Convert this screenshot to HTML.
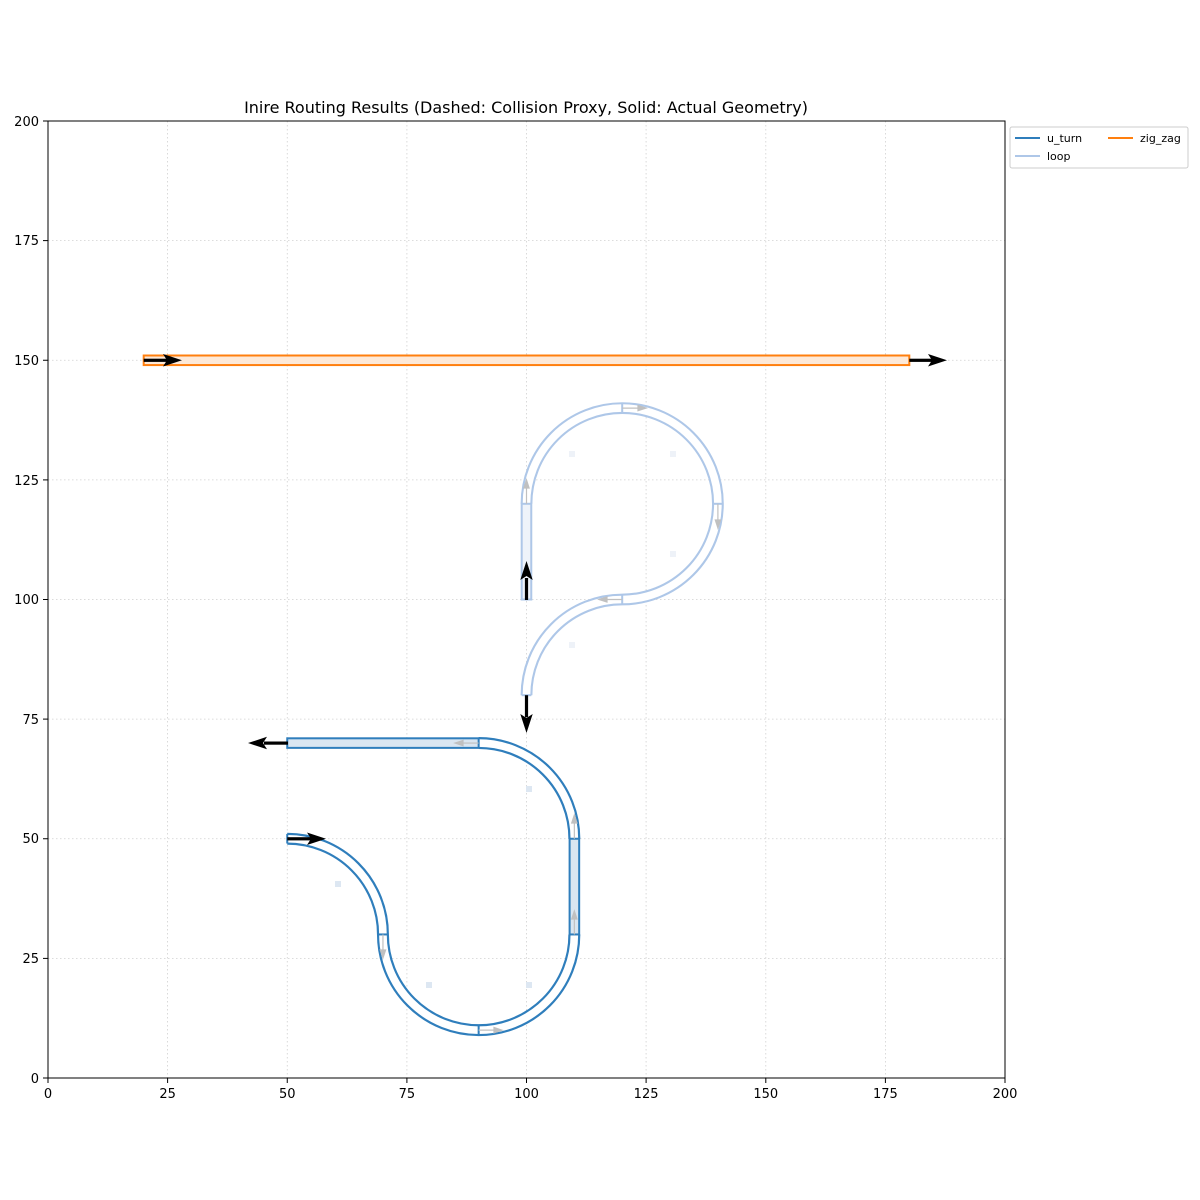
<!DOCTYPE html>
<html><head><style>body{margin:0;background:#fff}svg{display:block}</style></head><body>
<svg width="1200" height="1200" xmlns="http://www.w3.org/2000/svg" font-family="DejaVu Sans, Liberation Sans, sans-serif">
<rect width="1200" height="1200" fill="#fff"/>
<text x="526" y="113" font-size="16" text-anchor="middle">Inire Routing Results (Dashed: Collision Proxy, Solid: Actual Geometry)</text>
<g stroke="#d0d0d0" stroke-width="0.8" stroke-dasharray="1.5,2.5">
<line x1="167.6" y1="121" x2="167.6" y2="1078"/><line x1="287.25" y1="121" x2="287.25" y2="1078"/><line x1="406.9" y1="121" x2="406.9" y2="1078"/><line x1="526.5" y1="121" x2="526.5" y2="1078"/><line x1="646.1" y1="121" x2="646.1" y2="1078"/><line x1="765.8" y1="121" x2="765.8" y2="1078"/><line x1="885.4" y1="121" x2="885.4" y2="1078"/>
<line x1="48" y1="958.4" x2="1005" y2="958.4"/><line x1="48" y1="838.75" x2="1005" y2="838.75"/><line x1="48" y1="719.1" x2="1005" y2="719.1"/><line x1="48" y1="599.5" x2="1005" y2="599.5"/><line x1="48" y1="479.9" x2="1005" y2="479.9"/><line x1="48" y1="360.25" x2="1005" y2="360.25"/><line x1="48" y1="240.6" x2="1005" y2="240.6"/>
</g>
<!-- zig_zag -->
<rect x="143.7" y="355.5" width="765.6" height="9.57" fill="#fde9d8" stroke="#ff7f0e" stroke-width="2"/>
<!-- loop -->
<g fill="none">
<path d="M526.5,695.2 A95.7,95.7 0 0 1 622.2,599.5 A95.7,95.7 0 0 0 717.9,503.8 A95.7,95.7 0 0 0 622.2,408.1 A95.7,95.7 0 0 0 526.5,503.8" stroke="#aec7e8" stroke-width="11.8"/>
<path d="M526.5,695.2 A95.7,95.7 0 0 1 622.2,599.5 A95.7,95.7 0 0 0 717.9,503.8 A95.7,95.7 0 0 0 622.2,408.1 A95.7,95.7 0 0 0 526.5,503.8" stroke="#fff" stroke-width="7.6"/>
</g>
<rect x="521.7" y="503.8" width="9.57" height="95.7" fill="#eef3fa" stroke="#aec7e8" stroke-width="2"/>
<g stroke="#aec7e8" stroke-width="2"><line x1="521.7" y1="695.2" x2="531.3" y2="695.2"/><line x1="622.2" y1="594.7" x2="622.2" y2="604.3"/><line x1="713.1" y1="503.8" x2="722.7" y2="503.8"/><line x1="622.2" y1="403.3" x2="622.2" y2="412.9"/></g>
<!-- u_turn -->
<g fill="none">
<path d="M287.25,838.75 A95.7,95.7 0 0 1 382.95,934.45 A95.7,95.7 0 0 0 478.65,1030.15 A95.7,95.7 0 0 0 574.35,934.45 M574.35,838.75 A95.7,95.7 0 0 0 478.65,743.05" stroke="#2f7ebc" stroke-width="12"/>
<path d="M287.25,838.75 A95.7,95.7 0 0 1 382.95,934.45 A95.7,95.7 0 0 0 478.65,1030.15 A95.7,95.7 0 0 0 574.35,934.45 M574.35,838.75 A95.7,95.7 0 0 0 478.65,743.05" stroke="#fff" stroke-width="7.6"/>
</g>
<rect x="569.6" y="838.75" width="9.57" height="95.7" fill="#dae6f1" stroke="#2f7ebc" stroke-width="2"/>
<rect x="287.25" y="738.3" width="191.4" height="9.57" fill="#dae6f1" stroke="#2f7ebc" stroke-width="2"/>
<g stroke="#2f7ebc" stroke-width="2"><line x1="287.25" y1="834" x2="287.25" y2="843.5"/><line x1="378.2" y1="934.45" x2="387.7" y2="934.45"/><line x1="478.65" y1="1025.4" x2="478.65" y2="1035"/></g>
<!-- small gray direction arrows -->
<g stroke="#c0c0c0" stroke-width="1.2" fill="#c0c0c0">
<line x1="622.2" y1="408.1" x2="640" y2="408.1"/><polygon points="646,408.1 638,405.5 638,410.7"/>
<line x1="717.9" y1="503.8" x2="717.9" y2="522"/><polygon points="717.9,528 715.3,520 720.5,520"/>
<line x1="622.2" y1="599.5" x2="605" y2="599.5"/><polygon points="599,599.5 607,596.9 607,602.1"/>
<line x1="526.5" y1="503.8" x2="526.5" y2="486"/><polygon points="526.5,480 523.9,488 529.1,488"/>
<line x1="478.65" y1="743.05" x2="461" y2="743.05"/><polygon points="455,743.05 463,740.4 463,745.7"/>
<line x1="574.35" y1="838.75" x2="574.35" y2="821"/><polygon points="574.35,815 571.7,823 577,823"/>
<line x1="574.35" y1="934.45" x2="574.35" y2="917"/><polygon points="574.35,911 571.7,919 577,919"/>
<line x1="382.95" y1="934.45" x2="382.95" y2="952"/><polygon points="382.95,958 380.3,950 385.6,950"/>
<line x1="478.65" y1="1030.15" x2="496" y2="1030.15"/><polygon points="502,1030.15 494,1027.5 494,1032.8"/>
</g>
<!-- small markers -->
<g fill="#dde7f2"><rect x="335" y="881" width="6" height="6"/><rect x="426" y="982" width="6" height="6"/><rect x="526" y="982" width="6" height="6"/><rect x="526" y="786" width="6" height="6"/></g>
<g fill="#eef2f8"><rect x="569" y="451" width="6" height="6"/><rect x="670" y="451" width="6" height="6"/><rect x="670" y="551" width="6" height="6"/><rect x="569" y="642" width="6" height="6"/></g>
<!-- black arrows -->
<g fill="#000">
<rect x="143.7" y="358.7" width="24" height="3.2"/><polygon points="182,360.25 163,354 167,360.25 163,366.5"/>
<rect x="909.3" y="358.7" width="24" height="3.2"/><polygon points="947,360.25 928,354 932,360.25 928,366.5"/>
<rect x="287.25" y="837.2" width="24" height="3.2"/><polygon points="326,838.75 307,832.5 311,838.75 307,845"/>
<rect x="264" y="741.5" width="24" height="3.2"/><polygon points="248,743.05 267,736.8 263,743.05 267,749.3"/>
<rect x="524.9" y="695.2" width="3.2" height="22"/><polygon points="526.5,733 520.3,714 526.5,718 532.7,714"/>
<rect x="524.9" y="578" width="3.2" height="22"/><polygon points="526.5,561 520.3,580 526.5,576 532.7,580"/>
</g>
<!-- axes -->
<rect x="48" y="121" width="957" height="957" fill="none" stroke="#000" stroke-width="1"/>
<g stroke="#000" stroke-width="1">
<line x1="48" y1="1078" x2="48" y2="1083"/><line x1="167.6" y1="1078" x2="167.6" y2="1083"/><line x1="287.25" y1="1078" x2="287.25" y2="1083"/><line x1="406.9" y1="1078" x2="406.9" y2="1083"/><line x1="526.5" y1="1078" x2="526.5" y2="1083"/><line x1="646.1" y1="1078" x2="646.1" y2="1083"/><line x1="765.8" y1="1078" x2="765.8" y2="1083"/><line x1="885.4" y1="1078" x2="885.4" y2="1083"/><line x1="1005" y1="1078" x2="1005" y2="1083"/>
<line x1="43" y1="1078" x2="48" y2="1078"/><line x1="43" y1="958.4" x2="48" y2="958.4"/><line x1="43" y1="838.75" x2="48" y2="838.75"/><line x1="43" y1="719.1" x2="48" y2="719.1"/><line x1="43" y1="599.5" x2="48" y2="599.5"/><line x1="43" y1="479.9" x2="48" y2="479.9"/><line x1="43" y1="360.25" x2="48" y2="360.25"/><line x1="43" y1="240.6" x2="48" y2="240.6"/><line x1="43" y1="121" x2="48" y2="121"/>
</g>
<g font-size="13" text-anchor="middle">
<text x="48" y="1098">0</text><text x="167.6" y="1098">25</text><text x="287.25" y="1098">50</text><text x="406.9" y="1098">75</text><text x="526.5" y="1098">100</text><text x="646.1" y="1098">125</text><text x="765.8" y="1098">150</text><text x="885.4" y="1098">175</text><text x="1005" y="1098">200</text>
</g>
<g font-size="13" text-anchor="end">
<text x="39" y="1083">0</text><text x="39" y="963">25</text><text x="39" y="843">50</text><text x="39" y="724">75</text><text x="39" y="604">100</text><text x="39" y="485">125</text><text x="39" y="365">150</text><text x="39" y="245">175</text><text x="39" y="126">200</text>
</g>
<!-- legend -->
<rect x="1010" y="127" width="178" height="41" rx="2" fill="#fff" stroke="#ccc"/>
<g stroke-width="2"><line x1="1015" y1="138" x2="1040" y2="138" stroke="#2f7ebc"/><line x1="1015" y1="156" x2="1040" y2="156" stroke="#aec7e8"/><line x1="1108" y1="138" x2="1133" y2="138" stroke="#ff7f0e"/></g>
<g font-size="11"><text x="1047" y="142">u_turn</text><text x="1047" y="160">loop</text><text x="1140" y="142">zig_zag</text></g>
</svg>
</body></html>
